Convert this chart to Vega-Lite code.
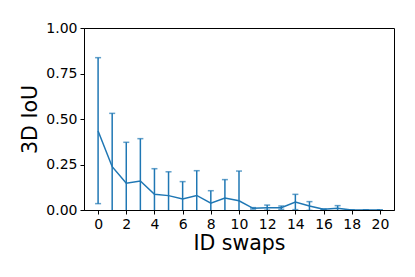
{
  "$schema": "https://vega.github.io/schema/vega-lite/v6.json",
  "autosize": "none",
  "width": 310,
  "height": 182,
  "padding": {"left": 84, "top": 28, "right": 21, "bottom": 67},
  "background": "white",
  "config": {
    "view": {"stroke": "black", "strokeWidth": 1},
    "axis": {
      "labelFont": "DejaVu Sans", "titleFont": "DejaVu Sans",
      "labelFontSize": 14, "titleFontSize": 20.5, "titleFontWeight": "normal",
      "labelColor": "black", "titleColor": "black",
      "tickColor": "black", "domainColor": "black",
      "tickSize": 4, "grid": false, "labelPadding": 3
    }
  },
  "data": {"values": [
    {"swaps": 0, "iou": 0.434, "lo": 0.035, "hi": 0.837},
    {"swaps": 1, "iou": 0.238, "lo": -0.055, "hi": 0.531},
    {"swaps": 2, "iou": 0.147, "lo": -0.078, "hi": 0.372},
    {"swaps": 3, "iou": 0.159, "lo": -0.074, "hi": 0.392},
    {"swaps": 4, "iou": 0.086, "lo": -0.055, "hi": 0.227},
    {"swaps": 5, "iou": 0.079, "lo": -0.052, "hi": 0.21},
    {"swaps": 6, "iou": 0.06, "lo": -0.036, "hi": 0.156},
    {"swaps": 7, "iou": 0.08, "lo": -0.056, "hi": 0.216},
    {"swaps": 8, "iou": 0.037, "lo": -0.032, "hi": 0.106},
    {"swaps": 9, "iou": 0.066, "lo": -0.035, "hi": 0.167},
    {"swaps": 10, "iou": 0.051, "lo": -0.112, "hi": 0.214},
    {"swaps": 11, "iou": 0.009, "lo": 0.005, "hi": 0.013},
    {"swaps": 12, "iou": 0.013, "lo": -0.001, "hi": 0.027},
    {"swaps": 13, "iou": 0.013, "lo": 0.004, "hi": 0.022},
    {"swaps": 14, "iou": 0.044, "lo": 0.002, "hi": 0.086},
    {"swaps": 15, "iou": 0.022, "lo": -0.002, "hi": 0.046},
    {"swaps": 16, "iou": 0.004, "lo": 0.004, "hi": 0.004},
    {"swaps": 17, "iou": 0.009, "lo": -0.006, "hi": 0.024},
    {"swaps": 18, "iou": 0.0, "lo": 0.0, "hi": 0.0},
    {"swaps": 19, "iou": 0.0, "lo": 0.0, "hi": 0.0},
    {"swaps": 20, "iou": 0.0, "lo": 0.0, "hi": 0.0}
  ]},
  "encoding": {
    "x": {"field": "swaps", "type": "quantitative",
      "scale": {"domain": [-1, 21], "nice": false, "zero": false},
      "axis": {"values": [0,2,4,6,8,10,12,14,16,18,20], "title": "ID swaps", "titlePadding": 2}}
  },
  "layer": [
    {
      "mark": {"type": "rule", "color": "#1f77b4", "strokeWidth": 1.5, "clip": true},
      "encoding": {
        "y": {"field": "lo", "type": "quantitative", "scale": {"domain": [0, 1], "nice": false},
          "axis": {"values": [0, 0.25, 0.5, 0.75, 1], "format": ".2f", "title": "3D IoU", "titlePadding": 5}},
        "y2": {"field": "hi"}
      }
    },
    {
      "mark": {"type": "tick", "color": "#1f77b4", "size": 6, "thickness": 1.5, "orient": "horizontal", "clip": true},
      "encoding": {"y": {"field": "hi", "type": "quantitative"}}
    },
    {
      "mark": {"type": "tick", "color": "#1f77b4", "size": 6, "thickness": 1.5, "orient": "horizontal", "clip": true},
      "encoding": {"y": {"field": "lo", "type": "quantitative"}}
    },
    {
      "mark": {"type": "line", "color": "#1f77b4", "strokeWidth": 1.5, "clip": true},
      "encoding": {"y": {"field": "iou", "type": "quantitative"}}
    }
  ]
}
